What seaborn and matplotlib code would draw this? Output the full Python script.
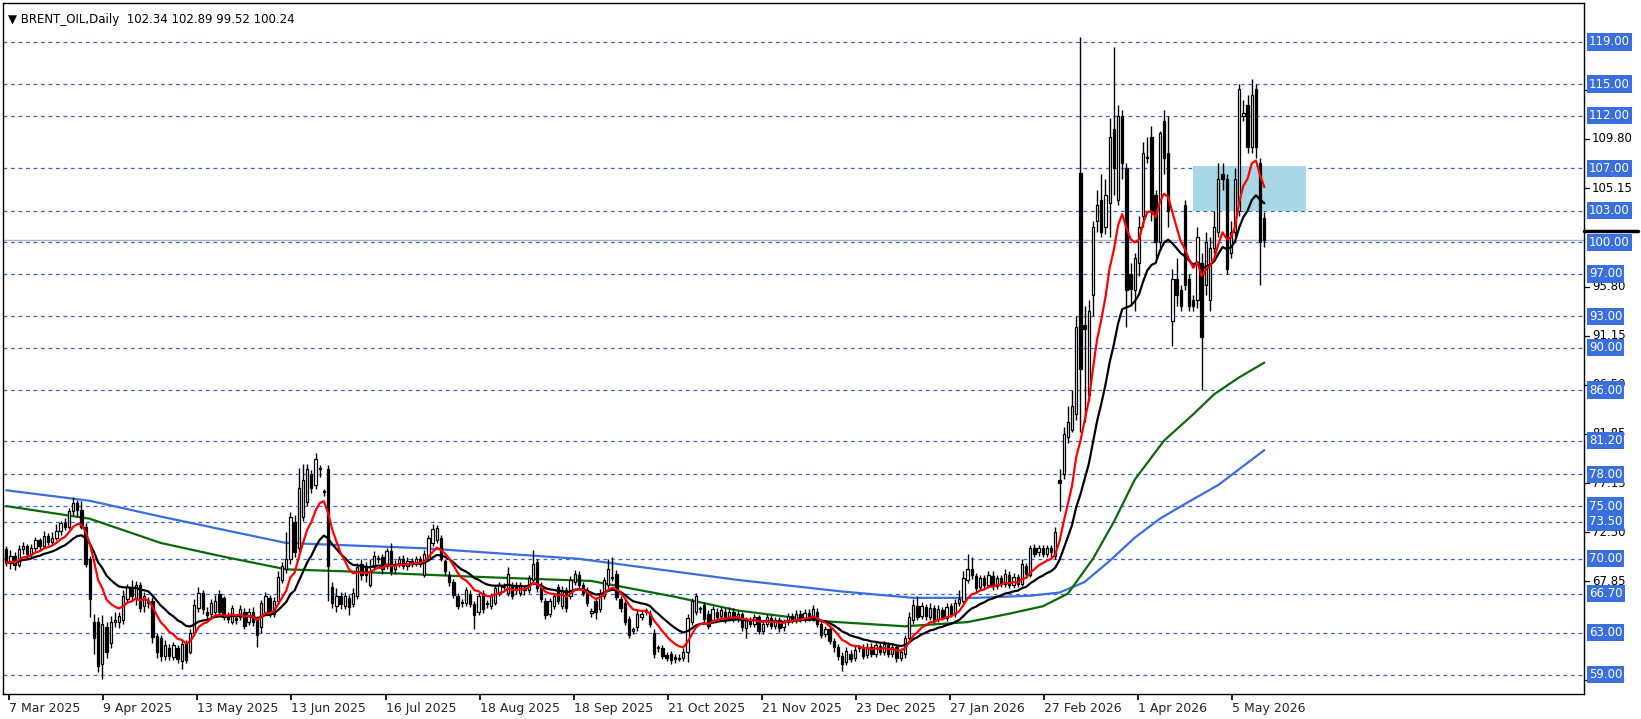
import numpy as np
import pandas as pd
import matplotlib
matplotlib.use("Agg")
import matplotlib.pyplot as plt
import matplotlib.transforms as mtransforms
import seaborn as sns

sns.set_theme(style="white")
plt.rcParams['font.family'] = ['DejaVu Sans']

opens = [70.9,69.6,70.3,69.4,70.9,71.2,70.5,71.0,71.8,71.2,72.2,71.6,72.0,72.6,73.4,73.0,74.5,75.3,74.6,73.0,
 70.0,64.0,64.0,60.0,63.5,62.0,64.0,64.0,64.2,66.2,67.3,66.2,67.5,65.5,66.0,66.0,62.7,62.5,60.8,61.5,
 60.7,61.5,60.3,62.0,61.2,63.0,65.3,66.8,65.0,64.8,65.0,66.7,66.3,64.7,64.0,64.4,64.5,65.0,64.0,65.0,
 64.3,63.5,65.0,66.3,64.8,66.0,68.0,69.0,70.0,73.5,71.0,74.0,75.4,78.0,77.0,78.5,76.3,78.5,67.3,65.5,
 66.5,65.5,66.3,65.7,66.5,69.5,69.3,67.5,69.2,70.0,70.2,69.3,70.7,69.0,69.5,70.0,69.3,69.8,69.6,70.0,
 68.5,70.0,71.5,71.8,72.0,69.8,68.5,67.8,66.5,65.8,65.8,66.7,65.7,65.0,66.8,65.7,65.5,65.8,66.8,67.3,
 66.8,67.5,67.5,66.8,67.0,67.0,68.0,69.7,67.5,66.0,64.8,65.5,67.3,65.5,67.0,66.5,67.8,68.5,67.5,67.0,
 64.9,66.0,65.2,66.5,67.5,68.2,68.6,66.2,65.8,64.3,63.2,63.5,64.5,65.0,64.8,63.0,61.5,61.5,60.9,61.0,
 60.7,60.5,60.6,61.2,64.0,65.0,65.2,65.6,64.8,64.2,65.0,64.6,65.0,64.4,65.0,64.3,64.8,63.4,64.2,63.8,
 64.5,63.2,63.8,64.4,63.6,64.2,63.5,64.0,64.6,64.2,64.8,64.3,64.9,64.4,65.0,63.8,62.9,63.3,62.2,61.6,
 60.8,60.2,61.0,60.6,61.5,61.5,60.9,61.6,61.0,61.7,61.2,61.8,61.0,61.6,60.6,61.0,62.5,64.2,65.5,64.6,
 65.4,64.5,65.3,64.3,65.1,64.4,65.5,64.8,65.8,66.0,68.0,69.0,68.4,67.3,68.2,67.5,68.4,67.4,68.2,67.6,
 68.5,67.5,68.3,67.6,69.3,68.5,71.0,70.6,71.0,70.5,71.0,70.3,77.5,78.0,81.5,82.2,83.7,106.6,92.2,85.5,
 95.0,102.0,104.0,101.5,103.7,110.7,104.0,112.0,107.0,97.0,95.5,98.0,102.5,108.0,110.0,104.5,100.0,111.5,108.5,92.5,
 96.5,95.5,103.5,96.5,94.5,94.5,98.0,96.0,94.5,99.5,101.0,106.5,106.0,99.0,101.0,103.0,112.0,113.0,109.0,114.5,
 107.5,102.34]
closes = [69.6,70.3,69.4,70.9,71.2,70.5,71.0,71.8,71.2,72.2,71.6,72.0,72.6,73.4,73.0,74.5,75.3,74.6,73.0,69.5,
 66.2,62.5,59.8,63.8,61.2,64.0,64.2,64.6,66.5,67.3,66.5,67.5,65.3,66.5,65.8,62.6,61.2,60.8,61.8,60.8,
 61.8,60.5,61.9,60.4,63.0,65.6,66.8,65.2,64.7,65.8,66.0,65.0,64.5,64.3,65.3,64.2,65.2,63.6,65.0,64.0,
 62.8,65.8,66.5,64.8,66.0,68.3,69.3,70.0,74.0,70.6,76.7,77.5,78.5,76.7,79.5,78.5,76.3,69.3,65.8,66.5,
 65.7,66.5,65.4,66.8,69.2,68.5,68.5,68.8,70.3,70.0,69.0,70.7,68.8,69.5,70.0,69.3,69.8,69.6,70.0,69.5,
 70.5,72.0,72.8,72.9,70.0,68.8,67.8,66.6,65.5,65.9,67.0,65.7,64.7,66.5,65.2,65.7,66.5,67.2,67.5,67.3,
 68.6,66.5,67.0,67.5,67.0,68.2,69.5,67.2,66.2,64.7,66.0,66.5,66.0,67.0,65.3,68.0,68.6,67.5,66.8,65.8,
 64.9,65.0,66.8,68.0,69.0,68.2,66.4,65.3,64.0,62.8,63.2,64.8,64.8,65.0,63.8,61.0,61.5,60.8,60.6,60.4,
 60.5,60.6,61.2,64.4,66.0,66.5,65.2,64.3,63.6,65.2,64.5,65.1,64.2,65.0,64.3,64.8,63.5,64.2,63.8,64.5,
 63.2,63.8,64.5,63.6,64.2,63.4,64.0,64.6,64.2,64.8,64.3,64.9,64.4,65.2,63.8,62.8,63.3,62.2,61.6,60.8,
 60.0,61.3,60.5,61.4,61.5,60.8,61.6,61.0,61.8,61.2,61.9,61.0,61.6,60.6,61.2,62.5,64.5,65.6,64.5,65.5,
 64.6,65.3,64.2,65.2,64.5,65.4,64.8,65.8,66.2,68.2,69.0,68.5,67.2,68.2,67.5,68.5,67.4,68.2,67.6,68.6,
 67.5,68.3,67.6,69.5,68.6,71.0,70.5,71.0,70.5,71.0,70.6,72.5,77.2,81.8,83.0,84.5,92.0,88.0,91.8,93.5,
 101.5,103.5,101.0,104.5,110.0,107.0,112.0,107.5,95.5,95.6,98.5,101.5,108.5,108.0,103.0,100.0,110.4,108.0,103.0,96.5,
 95.0,94.0,96.0,94.0,94.0,100.5,91.0,100.0,99.5,101.5,106.0,106.0,97.5,101.0,106.0,114.5,112.3,109.0,114.0,109.0,
 100.0,100.24]
highs = [71.2,70.8,70.6,71.3,71.6,71.4,71.4,72.1,72.0,72.6,72.4,72.5,73.3,73.6,73.9,74.8,75.9,75.6,75.5,73.4,
 70.3,64.8,64.5,64.7,64.0,64.6,65.0,65.0,67.0,67.6,68.0,67.9,67.8,66.9,66.4,66.4,63.0,62.8,62.3,61.9,
 62.1,61.8,62.3,62.3,63.3,66.2,67.3,67.0,65.4,66.2,66.6,67.0,66.5,65.0,65.6,64.8,65.6,65.3,65.3,65.4,
 64.6,66.1,66.9,66.6,66.4,68.8,69.7,72.5,74.4,74.2,78.6,79.0,79.0,78.4,80.0,78.9,76.6,78.9,67.8,67.2,
 66.9,66.9,66.6,67.2,69.6,70.0,69.7,70.0,70.7,70.4,70.5,71.0,71.5,69.9,70.3,70.4,70.2,70.1,70.3,70.3,
 70.8,72.3,73.3,73.2,72.3,70.0,68.8,68.1,66.8,66.2,67.3,67.0,66.0,66.8,67.0,66.1,66.8,67.5,67.8,67.7,
 69.2,67.8,67.8,67.8,67.4,68.5,70.8,70.0,67.8,66.3,66.3,66.8,67.6,67.4,67.3,68.4,68.9,68.8,67.8,67.3,
 65.3,66.3,67.1,68.3,70.0,70.2,68.9,66.5,66.1,64.6,63.5,65.1,65.1,65.3,65.1,63.3,61.8,61.8,61.2,61.3,
 61.0,61.0,61.5,64.8,66.3,66.8,65.5,65.9,65.1,65.5,65.3,65.4,65.3,65.4,65.3,65.1,65.0,64.5,64.5,64.8,
 64.7,64.1,64.8,64.7,64.5,64.5,64.3,64.9,64.9,65.1,65.1,65.2,65.2,65.6,65.3,64.1,63.6,63.5,62.5,61.9,
 61.2,61.6,61.4,61.7,61.8,61.9,62.0,62.0,62.1,62.0,62.2,62.1,61.9,61.9,61.5,62.8,65.0,66.2,66.5,65.9,
 65.7,65.8,65.6,65.6,65.4,65.8,65.8,66.2,67.0,68.8,70.5,70.2,68.7,68.5,68.5,68.8,68.8,68.5,68.5,69.0,
 68.8,68.7,68.6,70.0,69.6,71.3,71.4,71.3,71.3,71.3,71.3,73.0,78.5,82.5,84.5,86.0,93.0,119.5,94.0,94.5,
 102.0,105.0,106.5,106.0,111.8,118.5,113.0,112.5,107.5,98.0,99.0,102.5,109.5,110.0,111.0,105.0,110.6,112.5,112.0,97.5,
 98.5,96.0,104.0,97.0,95.0,101.5,99.0,101.0,100.5,103.0,107.5,107.5,106.5,102.0,107.0,115.0,113.5,114.0,115.5,115.0,
 108.0,102.89]
lows = [69.3,69.0,68.9,69.2,70.5,70.0,70.2,70.7,70.8,71.0,71.3,71.4,71.8,72.3,72.7,72.8,74.2,74.0,72.8,69.2,
 64.5,61.0,59.3,58.6,60.6,61.5,63.5,63.4,63.8,65.8,66.0,65.6,65.0,65.0,65.3,62.0,60.6,60.3,60.4,60.4,
 60.4,60.1,59.6,60.1,61.0,62.8,65.0,64.8,64.3,64.5,64.8,64.7,64.2,63.9,63.8,63.8,64.2,63.3,63.7,63.6,
 61.6,63.0,64.8,64.5,64.5,65.7,67.7,68.7,69.5,70.2,70.6,73.6,75.0,76.2,76.6,77.8,76.0,66.0,65.3,65.0,
 65.2,65.2,64.7,65.4,66.2,68.0,67.8,67.3,68.9,69.6,68.6,69.0,68.5,68.6,69.2,69.0,68.9,69.2,69.3,69.2,
 68.3,69.8,71.2,71.5,69.8,68.5,67.4,66.3,65.2,65.4,65.5,65.4,63.3,64.7,64.9,65.3,65.2,65.6,66.5,67.0,
 66.5,66.2,66.7,66.5,66.6,66.8,67.8,66.9,65.9,64.3,64.5,65.2,65.7,65.2,65.0,66.2,67.5,67.2,66.5,65.5,
 64.5,64.3,65.0,66.2,67.2,67.9,66.1,65.0,63.7,62.5,62.9,63.2,64.2,64.7,63.5,60.6,61.2,60.5,60.3,60.0,
 60.1,60.3,60.3,60.2,63.7,64.7,64.9,64.0,63.3,63.9,64.2,64.3,63.9,64.1,64.0,64.0,63.2,62.5,63.5,63.5,
 62.9,62.9,63.5,63.3,63.3,63.1,63.2,63.7,63.9,63.9,64.0,64.0,64.1,64.1,63.5,62.5,62.6,61.9,61.2,60.4,
 59.4,59.9,60.2,60.3,61.2,60.5,60.6,60.7,60.7,60.9,60.9,60.7,60.7,60.2,60.3,60.6,62.2,63.8,64.2,64.3,
 64.2,64.2,63.9,64.0,64.2,64.1,64.5,64.5,65.5,65.8,67.7,68.1,66.8,67.0,67.2,67.2,67.0,67.1,67.3,67.3,
 67.2,67.2,67.3,67.4,68.3,68.3,70.2,70.3,70.2,70.2,70.2,70.0,74.5,77.6,81.0,82.0,83.2,82.0,83.0,85.0,
 93.0,101.0,100.5,100.8,100.5,104.5,103.5,106.0,92.0,94.0,93.5,96.8,101.5,107.5,102.0,98.5,99.5,106.5,101.5,90.2,
 94.0,93.5,95.5,93.5,93.5,93.8,86.0,95.0,93.5,99.0,100.5,105.0,97.0,98.5,100.5,102.5,111.5,108.5,108.5,108.0,
 96.0,99.52]

ma_slow_idx = [0, 20, 37, 52, 67, 82, 112, 140, 160, 175, 195, 215, 230, 240, 248, 254, 260, 265, 270, 277, 284, 289, 295, 301]
ma_slow_val = [75.0, 73.8, 71.5, 70.2, 69.0, 68.8, 68.3, 67.9, 66.4, 65.1, 64.1, 63.6, 64.0, 64.8, 65.5, 66.7, 70.0, 73.5, 77.5, 81.2, 83.7, 85.6, 87.2, 88.6]
ma_long_idx = [0, 20, 37, 67, 100, 137, 175, 200, 217, 232, 245, 252, 258, 264, 270, 276, 282, 290, 296, 301]
ma_long_val = [76.5, 75.5, 74.0, 71.5, 71.0, 70.0, 68.0, 66.9, 66.3, 66.3, 66.5, 66.8, 67.8, 69.8, 72.0, 73.8, 75.2, 77.0, 78.8, 80.3]

levels = [119.0, 115.0, 112.0, 107.0, 103.0, 100.0, 97.0, 93.0, 90.0, 86.0, 81.2, 78.0, 75.0, 73.5, 70.0, 66.7, 63.0, 59.0]
scale_ticks = [114.45, 109.80, 105.15, 95.80, 91.15, 86.50, 81.85, 77.15, 72.50, 67.85, 58.55]
date_labels = ["7 Mar 2025", "9 Apr 2025", "13 May 2025", "13 Jun 2025", "16 Jul 2025", "18 Aug 2025",
               "18 Sep 2025", "21 Oct 2025", "21 Nov 2025", "23 Dec 2025", "27 Jan 2026", "27 Feb 2026",
               "1 Apr 2026", "5 May 2026"]
zone_bars = [284, 311]
zone_prices = [103.0, 107.2]
last_price = 100.24

df = pd.DataFrame({"o": opens, "h": highs, "l": lows, "c": closes})
df["i"] = np.arange(len(df))
df["fast"] = df["c"].ewm(span=10, adjust=False).mean()
df["mid"] = df["c"].ewm(span=21, adjust=False).mean()

fig = plt.figure(figsize=(16.41, 7.19), dpi=100)
ax = fig.add_axes([0.002, 0.035, 0.9633, 0.961])
ax.set_facecolor("white")

tr = mtransforms.blended_transform_factory(ax.transAxes, ax.transData)
for lv in levels:
    ax.axhline(lv, color="#3a5fd9", lw=0.9, ls=(0, (3, 3)), zorder=1)
ax.axhline(last_price, color="#b0b0b0", lw=1.0, zorder=1)

ax.add_patch(plt.Rectangle((zone_bars[0], zone_prices[0]), zone_bars[1] - zone_bars[0],
                           zone_prices[1] - zone_prices[0], facecolor="#a8d8e6", edgecolor="none", zorder=1.5))

sns.lineplot(x=ma_long_idx, y=ma_long_val, ax=ax, color="#3a6fe0", lw=1.6, zorder=2)
sns.lineplot(x=ma_slow_idx, y=ma_slow_val, ax=ax, color="#0a6a0a", lw=1.6, zorder=2)

up = df[df.c >= df.o]
dn = df[df.c < df.o]
ax.vlines(df.i, df.l, df.h, color="black", lw=1.0, zorder=3)
ax.bar(up.i, (up.c - up.o).clip(lower=0.12), bottom=up.o, width=0.55, color="white", edgecolor="black", lw=0.9, zorder=4)
ax.bar(dn.i, (dn.o - dn.c), bottom=dn.c, width=0.55, color="black", edgecolor="black", lw=0.9, zorder=4)

sns.lineplot(data=df, x="i", y="mid", ax=ax, color="black", lw=1.6, zorder=5)
sns.lineplot(data=df, x="i", y="fast", ax=ax, color="red", lw=1.6, zorder=5)

ax.set_xlim(-0.7, 377.5)
ax.set_ylim(57.2, 122.7)
ax.set_xlabel("")
ax.set_ylabel("")
ax.set_yticks([])
ax.set_xticks([0.75 + 22.5 * k for k in range(len(date_labels))])
ax.set_xticklabels(date_labels, ha="left", fontsize=9)
ax.tick_params(axis="x", length=4, direction="out", pad=2, color="black", bottom=True)
for sp in ax.spines.values():
    sp.set_color("black")
    sp.set_linewidth(1.0)

for t in scale_ticks:
    ax.plot([1.0, 1.003], [t, t], transform=tr, color="black", lw=0.9, clip_on=False)
    ax.text(1.005, t, f"{t:.2f}", transform=tr, va="center", ha="left", fontsize=8.5, color="black",
            clip_on=False, zorder=6)
for lv in levels:
    ax.text(1.003, lv, f"{lv:.2f}", transform=tr, va="center", ha="left", fontsize=8.5, color="white", clip_on=False,
            zorder=7, bbox=dict(boxstyle="square,pad=0.18", facecolor="#3a6fe0", edgecolor="none"))
ax.plot([1.0, 1.034], [101.1, 101.1], transform=tr, color="black", lw=2.5, clip_on=False)

ax.text(0.003, 0.985, "\u25bc BRENT_OIL,Daily  102.34 102.89 99.52 100.24", transform=ax.transAxes,
        fontsize=8.5, va="top", ha="left", color="black")

fig.savefig("out.png", dpi=100, facecolor="white")
